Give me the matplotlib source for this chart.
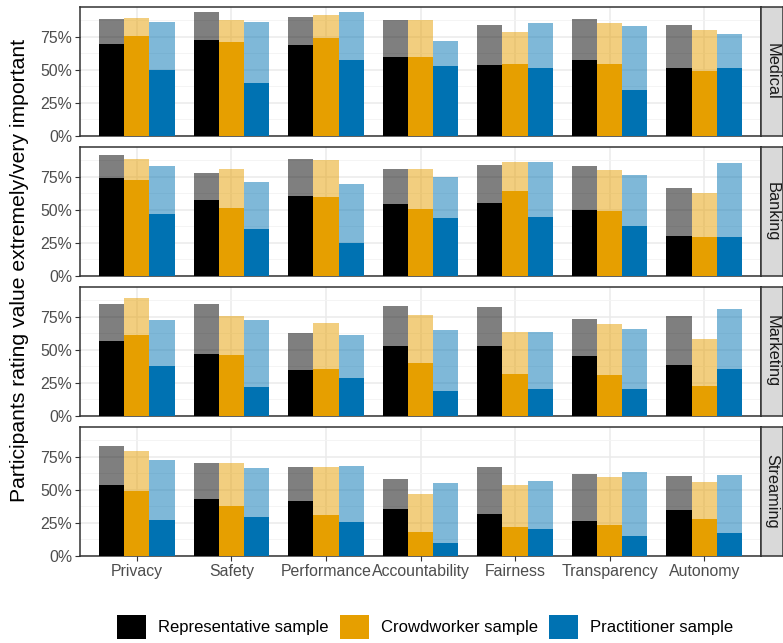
import numpy as np
import matplotlib.pyplot as plt
from matplotlib.patches import Patch

plt.rcParams['font.family'] = ['Liberation Sans', 'DejaVu Sans']

values = ['Privacy', 'Safety', 'Performance', 'Accountability', 'Fairness', 'Transparency', 'Autonomy']
domains = ['Medical', 'Banking', 'Marketing', 'Streaming']
samples = ['Representative sample', 'Crowdworker sample', 'Practitioner sample']
colors = ['#000000', '#E69F00', '#0072B2']

# % rating the value extremely OR very important (rows = domains)
rep_total = [[88.6, 93.9, 90.2, 87.9, 84.1, 88.6, 84.1],
             [91.7, 78.0, 88.6, 81.1, 84.1, 83.3, 66.7],
             [84.8, 84.8, 62.9, 83.3, 82.6, 73.5, 75.8],
             [83.3, 70.5, 67.4, 58.3, 67.4, 62.1, 60.6]]
crowd_total = [[89.4, 87.9, 91.7, 87.9, 78.8, 85.6, 80.3],
               [88.6, 81.1, 87.9, 81.1, 86.4, 80.3, 62.9],
               [89.4, 75.8, 70.5, 76.5, 63.6, 69.7, 58.3],
               [79.5, 70.5, 67.4, 47.0, 53.8, 59.8, 56.1]]
pract_total = [[86.4, 86.4, 93.9, 72.0, 85.6, 83.3, 77.3],
               [83.3, 71.2, 69.7, 75.0, 86.4, 76.5, 85.6],
               [72.7, 72.7, 61.4, 65.2, 63.6, 65.9, 81.1],
               [72.7, 66.7, 68.2, 55.3, 56.8, 63.6, 61.4]]

# % rating the value extremely important
rep_extreme = [[69.7, 72.7, 68.9, 59.8, 53.8, 57.6, 51.5],
               [74.2, 57.6, 60.6, 54.5, 55.3, 50.0, 30.3],
               [56.8, 47.0, 34.8, 53.0, 53.0, 45.5, 38.6],
               [53.8, 43.2, 41.7, 35.6, 31.8, 26.5, 34.8]]
crowd_extreme = [[76.0, 71.2, 74.2, 59.8, 54.5, 54.5, 49.2],
                 [72.7, 51.5, 59.8, 50.8, 64.4, 49.2, 29.5],
                 [61.4, 46.2, 35.6, 40.2, 31.8, 31.1, 22.7],
                 [49.2, 37.9, 31.1, 18.2, 22.0, 23.5, 28.0]]
pract_extreme = [[50.0, 40.2, 57.6, 53.0, 51.5, 34.8, 51.5],
                 [47.0, 35.6, 25.0, 43.9, 44.7, 37.9, 29.5],
                 [37.9, 22.0, 28.8, 18.9, 20.5, 20.5, 35.6],
                 [27.3, 29.5, 25.8, 9.8, 20.5, 15.2, 17.4]]

totals = [rep_total, crowd_total, pract_total]
extremes = [rep_extreme, crowd_extreme, pract_extreme]

W, H = 783, 643
fig = plt.figure(figsize=(W / 100, H / 100), dpi=100)

left, right = 80, 761
panel_h = 129
tops = [7, 147, 287, 427]
strip_w = 22

x = np.arange(1, len(values) + 1)
bw = 0.8 / 3
offsets = [-bw, 0, bw]

for d, dom in enumerate(domains):
    top = tops[d]
    ax = fig.add_axes([left / W, (H - top - panel_h) / H, (right - left) / W, panel_h / H])
    ax.set_axisbelow(True)
    for s in range(3):
        ax.bar(x + offsets[s], totals[s][d], width=bw, color=colors[s], alpha=0.5, linewidth=0, zorder=2)
        ax.bar(x + offsets[s], extremes[s][d], width=bw, color=colors[s], linewidth=0, zorder=3)
    ax.set_xlim(0.4, 7.6)
    ax.set_ylim(0, 97.7)
    ax.set_yticks([0, 25, 50, 75])
    ax.set_yticklabels(['0%', '25%', '50%', '75%'])
    ax.set_yticks([12.5, 37.5, 62.5, 87.5], minor=True)
    ax.set_xticks(x)
    ax.grid(True, which='major', color='#EBEBEB', linewidth=1.1, zorder=0)
    ax.grid(True, which='minor', axis='y', color='#F3F3F3', linewidth=0.6, zorder=0)
    ax.tick_params(which='minor', length=0)
    ax.tick_params(which='major', length=3.5, width=0.8, color='#333333',
                   labelcolor='#4D4D4D', labelsize=11.4, pad=2)
    if d < len(domains) - 1:
        ax.tick_params(axis='x', length=0, labelbottom=False)
    else:
        ax.set_xticklabels(values)
    for sp in ax.spines.values():
        sp.set_color('#333333')
        sp.set_linewidth(1.1)

    # facet strip on the right
    sax = fig.add_axes([right / W, (H - top - panel_h) / H, strip_w / W, panel_h / H])
    sax.set_facecolor('#D9D9D9')
    sax.set_xticks([])
    sax.set_yticks([])
    for sp in sax.spines.values():
        sp.set_color('#333333')
        sp.set_linewidth(1.1)
    sax.text(0.5, 0.5, dom, rotation=270, ha='center', va='center',
             fontsize=11.8, color='#1A1A1A', transform=sax.transAxes)

fig.text(20 / W, 1 - 270 / H, 'Participants rating value extremely/very important',
         rotation=90, ha='center', va='center', fontsize=15.2, color='#000000')

handles = [Patch(facecolor=c, edgecolor='none') for c in colors]
fig.legend(handles, samples, loc='center', bbox_to_anchor=(425 / W, 1 - 627 / H), ncol=3,
           frameon=False, fontsize=12,
           handlelength=1.74, handleheight=1.8, handletextpad=0.72, columnspacing=0.69)

fig.savefig('out.png', dpi=100)
